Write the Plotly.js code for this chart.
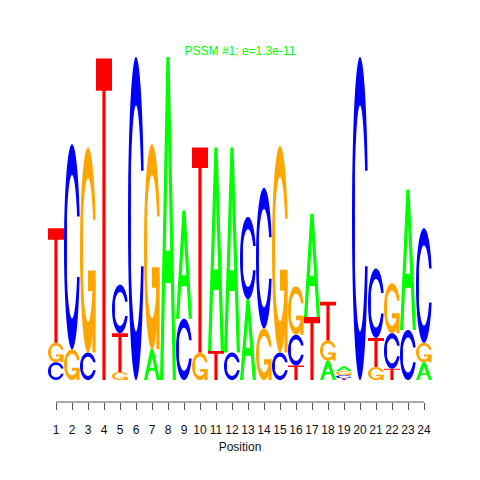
<!DOCTYPE html>
<html>
<head>
<meta charset="utf-8">
<script src="https://cdn.plot.ly/plotly-3.0.1.min.js"></script>
<style>html,body{margin:0;padding:0;background:#fff;}#chart{width:480px;height:480px;}</style>
</head>
<body>
<div id="chart"></div>
<script>
// Sequence logo data (information content in bits per letter)
const positions = [1,2,3,4,5,6,7,8,9,10,11,12,13,14,15,16,17,18,19,20,21,22,23,24];
const bitsA = [0,   0,   0,   0,   0,   0,   0.19,2.0, 0.67,0,   1.26,1.27,0.50,0,   0,   0,   0.64,0.12,0.03,0,   0,   0,   0.87,0.11];
const bitsC = [0.11,1.27,0.17,0,   0.30,2.0, 0,   0,   0.38,0,   0,   0.17,0.51,0.87,0.17,0.19,0,   0,   0.02,2.0, 0.43,0.22,0.31,0.71];
const bitsG = [0.12,0.19,1.27,0,   0.05,0,   1.27,0,   0,   0.17,0,   0,   0,   0.32,1.28,0.30,0,   0.125,0.025,0, 0.08,0.31,0,   0.12];
const bitsT = [0.71,0,   0,   1.99,0.24,0,   0,   0,   0,   1.27,0.18,0,   0,   0,   0,   0.09,0.39,0.24,0.01,0,   0.18,0.07,0,   0];
const letters = ['A','C','G','T'];
const letterColors = {A:'#00FF00', C:'#0000FF', G:'#FFA500', T:'#FF0000'};
const titleText = 'PSSM #1; e=1.3e-11';
const xTitle = 'Position';

// ---- glyph outlines in unit box (seqLogo style) ----
function ringGlyph(){
  const a0 = 0.3 + Math.PI/2, a1 = 1.5*Math.PI, n = 60;
  const lower = [];
  for(let i=0;i<=n;i++){const a=a0+(a1-a0)*i/n; lower.push([0.5+0.5*Math.sin(a),0.5+0.5*Math.cos(a)]);}
  const ymax = 0.5+0.5*Math.cos(a0);
  const outer = lower.concat(lower.slice().reverse().map(p=>[p[0],1-p[1]]));
  let innerLower = [];
  for(let i=0;i<=n*2;i++){const a=a0+(a1-a0)*i/(n*2); const p=[0.5+0.35*Math.sin(a),0.5+0.35*Math.cos(a)]; if(p[1]<=ymax) innerLower.push(p);}
  innerLower[0] = [innerLower[0][0], ymax];
  const inner = innerLower.concat(innerLower.slice().reverse().map(p=>[p[0],1-p[1]]));
  return {poly: outer.concat(inner.slice().reverse()), r1: 0.5+0.5*Math.sin(a0)};
}
const ring = ringGlyph();
const glyphs = {
  A: [[[0,0],[0.4,1],[0.6,1],[1,0],[0.8,0],[0.68,0.3],[0.32,0.3],[0.2,0]],
      [[0.36,0.4],[0.5,0.75],[0.64,0.4]]],
  T: [[[0,1],[1,1],[1,0.9],[0.6,0.9],[0.6,0],[0.4,0],[0.4,0.9],[0,0.9]]],
  C: [ring.poly],
  G: [ring.poly],
  Gbar: [[[ring.r1,0.4],[0.5,0.4],[0.5,0.3],[ring.r1-0.2,0.3],[ring.r1-0.2,0],[ring.r1,0]]]
};

function pathFor(polys, x0, y0, w, h){
  return polys.map(poly => 'M' + poly.map(p => (x0+p[0]*w).toFixed(4)+','+(y0+p[1]*h).toFixed(5)).join('L') + 'Z').join(' ');
}

const bits = {A:bitsA, C:bitsC, G:bitsG, T:bitsT};
const shapes = [];
positions.forEach((pos, i) => {
  const col = letters.map(L => ({L, v: bits[L][i]})).filter(d => d.v > 0).sort((a,b)=>a.v-b.v);
  let base = 0;
  col.forEach(d => {
    const x0 = pos - 0.5, w = 1;
    const parts = d.L === 'G' ? [glyphs.G, glyphs.Gbar] : [glyphs[d.L]];
    parts.forEach(pp => {
      shapes.push({type:'path', xref:'x', yref:'y', path: pathFor(pp, x0, base, w, d.v),
        fillcolor: letterColors[d.L], fillrule:'evenodd', line:{width:0}, layer:'above'});
    });
    base += d.v;
  });
});
// axis line from first to last tick (R style)
shapes.push({type:'line', xref:'x', yref:'paper', x0:positions[0], x1:positions[positions.length-1], y0:0, y1:0,
  line:{color:'#555555', width:1}});

const font = 'Liberation Sans, Arial, Helvetica, sans-serif';
const layout = {
  width:480, height:480,
  margin:{l:48, r:48, t:57, b:78, pad:0},
  paper_bgcolor:'#ffffff', plot_bgcolor:'#ffffff',
  showlegend:false,
  title:{text:titleText, font:{family:font, size:12, color:'#00FF00'}, x:0.5, xanchor:'center', xref:'paper',
    y:1-51/480, yref:'container', yanchor:'middle'},
  xaxis:{range:[0.5,24.5], tickmode:'array', tickvals:positions, ticktext:positions.map(String),
    showgrid:false, zeroline:false, showline:false, ticks:'outside', ticklen:7, tickwidth:1, tickcolor:'#555555',
    ticklabelstandoff:10,
    tickfont:{family:font, size:12, color:'#111111'},
    title:{text:xTitle, font:{family:font, size:12, color:'#111111'}, standoff:6}, fixedrange:true},
  yaxis:{range:[-0.1362, 2.0], visible:false, showgrid:false, zeroline:false, fixedrange:true},
  shapes: shapes
};
Plotly.newPlot('chart', [{x:[], y:[], type:'scatter', mode:'markers', hoverinfo:'skip'}], layout, {staticPlot:true, displayModeBar:false});
</script>
</body>
</html>
